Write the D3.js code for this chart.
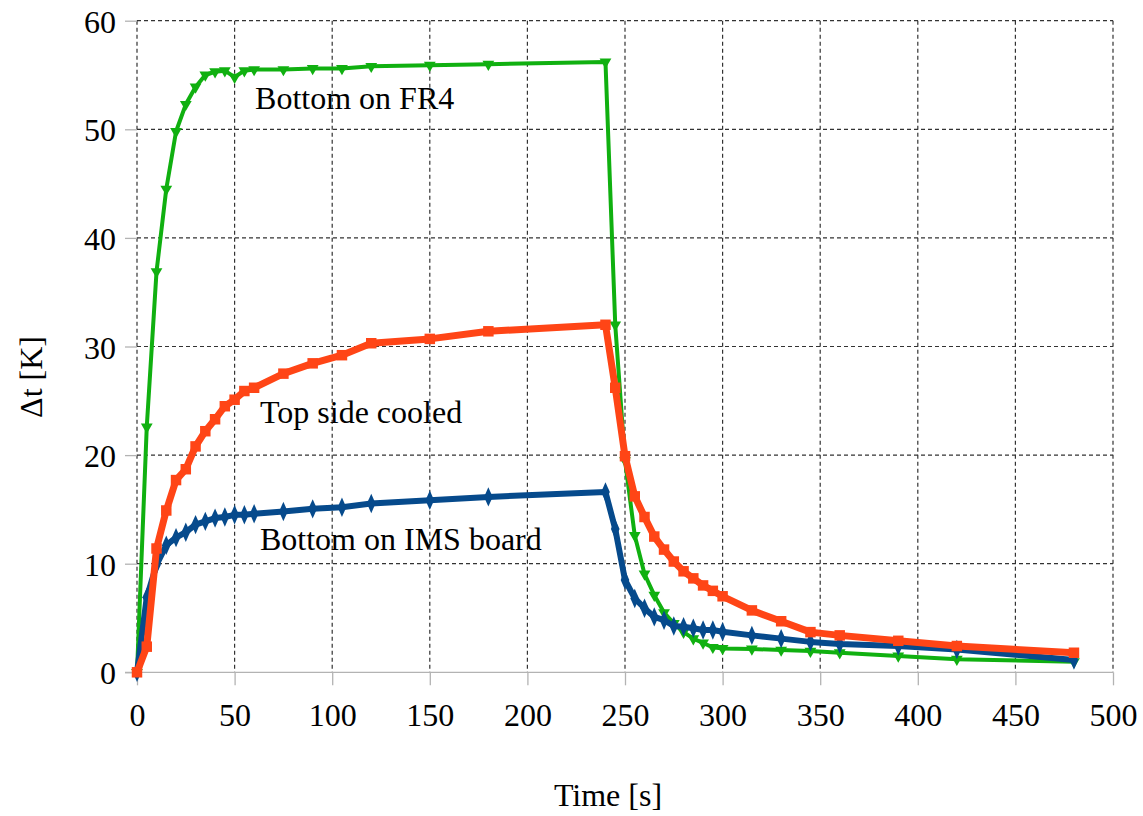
<!DOCTYPE html>
<html>
<head>
<meta charset="utf-8">
<script src="https://cdn.jsdelivr.net/npm/d3@7"></script>
<style>
  html, body { margin: 0; padding: 0; background: #fff; }
  svg { display: block; }
  svg text { font-family: "Liberation Serif", "Times New Roman", serif !important; fill: #000; }
</style>
</head>
<body>
<svg id="chart" width="1143" height="816"></svg>
<script>
// Sample times [s] shared by all three measurements
const times = [0, 5, 10, 15, 20, 25, 30, 35, 40, 45, 50, 55, 60, 75, 90, 105, 120, 150, 180, 240,
  245, 250, 255, 260, 265, 270, 275, 280, 285, 290, 295, 300, 315, 330, 345, 360, 390, 420, 480];

// Temperature rise Δt [K]
const bottomOnFR4 = [0, 22.6, 36.9, 44.5, 49.8, 52.3, 53.9, 55.0, 55.3, 55.4, 54.8, 55.4, 55.5, 55.5, 55.6, 55.6, 55.8, 55.9, 56.0, 56.2,
  32.0, 19.5, 12.6, 9.05, 7.1, 5.5, 4.5, 3.7, 3.1, 2.7, 2.3, 2.2, 2.15, 2.05, 1.95, 1.8, 1.5, 1.2, 0.98];
const topSideCooled = [0, 2.36, 11.4, 14.9, 17.7, 18.7, 20.8, 22.2, 23.3, 24.5, 25.1, 25.9, 26.2, 27.5, 28.45, 29.2, 30.3, 30.7, 31.4, 32.0,
  26.2, 19.9, 16.2, 14.3, 12.5, 11.3, 10.2, 9.3, 8.65, 8.0, 7.5, 7.0, 5.7, 4.7, 3.7, 3.4, 2.9, 2.42, 1.8];
const bottomOnIMS = [0, 6.9, 9.9, 11.7, 12.4, 12.9, 13.6, 13.9, 14.2, 14.3, 14.5, 14.5, 14.6, 14.8, 15.05, 15.2, 15.55, 15.85, 16.15, 16.6,
  13.2, 8.5, 6.8, 5.9, 5.1, 4.8, 4.26, 4.2, 4.05, 3.9, 3.9, 3.74, 3.4, 3.1, 2.8, 2.6, 2.42, 2.1, 1.13];

const xTicks = [0, 50, 100, 150, 200, 250, 300, 350, 400, 450, 500];
const yTicks = [0, 10, 20, 30, 40, 50, 60];

const seriesNames = ["Bottom on FR4", "Bottom on IMS board", "Top side cooled"];

const svg = d3.select("#chart");
const plotLeft = 137, plotRight = 1113, plotTop = 20.7, plotBottom = 672.3;
const serif = '"Liberation Serif", "Times New Roman", serif';

const x = d3.scaleLinear().domain([0, 500]).range([plotLeft, plotRight]);
const y = d3.scaleLinear().domain([0, 60]).range([plotBottom, plotTop]);

// Grid
const grid = svg.append("g").attr("stroke", "#333").attr("stroke-width", 1.2)
  .attr("stroke-dasharray", "4,3").attr("fill", "none");
xTicks.forEach(t => grid.append("line")
  .attr("x1", x(t)).attr("x2", x(t)).attr("y1", y(60)).attr("y2", y(0)));
yTicks.filter(t => t > 0).forEach(t => grid.append("line")
  .attr("x1", x(0)).attr("x2", x(500)).attr("y1", y(t)).attr("y2", y(t)));

// Axes
const xAxis = d3.axisBottom(x).tickValues(xTicks).tickSize(13).tickPadding(18).tickFormat(d3.format("d"));
const yAxis = d3.axisLeft(y).tickValues(yTicks).tickSize(12).tickPadding(9).tickFormat(d3.format("d"));

const gx = svg.append("g").attr("transform", `translate(0,${plotBottom})`).call(xAxis);
const gy = svg.append("g").attr("transform", `translate(${plotLeft},0)`).call(yAxis);
[gx, gy].forEach(g => {
  g.attr("font-family", serif).attr("font-size", 32);
  g.selectAll(".tick line").attr("stroke", "#b3b3b3").attr("stroke-width", 1.3);
  g.selectAll(".tick text").style("font-family", serif).style("font-size", "32px").attr("fill", "#000");
});
gy.select(".domain").remove();
gx.select(".domain").remove();
svg.append("line").attr("x1", plotLeft - 12).attr("x2", plotRight).attr("y1", plotBottom).attr("y2", plotBottom)
  .attr("stroke", "#b3b3b3").attr("stroke-width", 1.3);
gy.selectAll(".tick text").attr("dy", "0.36em");

// Series
const series = [
  { name: seriesNames[0], values: bottomOnFR4, color: "#10b010", width: 4, marker: "tri" },
  { name: seriesNames[1], values: bottomOnIMS, color: "#064a8c", width: 6, marker: "diamond" },
  { name: seriesNames[2], values: topSideCooled, color: "#ff4516", width: 7, marker: "square" }
];

const line = d3.line().x(d => x(d[0])).y(d => y(d[1]));
const symbolType = { tri: d3.symbolTriangle, diamond: d3.symbolDiamond, square: d3.symbolSquare };
const symbolSize = { tri: 60, diamond: 90, square: 110 };

series.forEach(s => {
  const pts = times.map((t, i) => [t, s.values[i]]);
  const g = svg.append("g");
  g.append("path").datum(pts).attr("d", line)
    .attr("fill", "none").attr("stroke", s.color).attr("stroke-width", s.width)
    .attr("stroke-linejoin", "round").attr("stroke-linecap", "round");
  const sym = d3.symbol().type(symbolType[s.marker]).size(symbolSize[s.marker]);
  g.selectAll("path.m").data(pts).join("path").attr("class", "m")
    .attr("d", sym)
    .attr("transform", d => `translate(${x(d[0])},${y(d[1])})` + (s.marker === "tri" ? " rotate(180)" : (s.marker === "diamond" ? " scale(0.85,1.1)" : "")))
    .attr("fill", s.color);
});

// Series labels
const labels = [
  { text: seriesNames[0], t: 60.5, v: 51.9 },
  { text: seriesNames[2], t: 63, v: 23.0 },
  { text: seriesNames[1], t: 63, v: 11.3 }
];
svg.append("g").selectAll("text").data(labels).join("text")
  .attr("x", d => x(d.t)).attr("y", d => y(d.v))
  .attr("font-size", 32).text(d => d.text);

// Axis titles
svg.append("text").attr("x", 608).attr("y", 806).attr("text-anchor", "middle")
  .attr("font-size", 32).text("Time [s]");
svg.append("text").attr("transform", "translate(42,377) rotate(-90)").attr("text-anchor", "middle")
  .attr("font-size", 32).text("Δt [K]");
</script>
</body>
</html>
